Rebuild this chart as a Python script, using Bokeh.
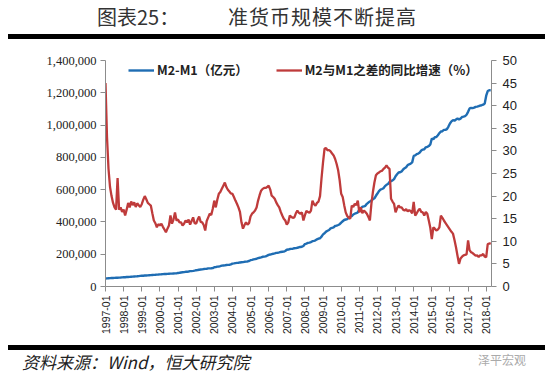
from bokeh.plotting import figure
from bokeh.models import (Range1d, LinearAxis, FixedTicker, NumeralTickFormatter,
                          Legend, LegendItem, ColumnDataSource, Div)
from bokeh.layouts import column
from bokeh.embed import file_html
from bokeh.resources import INLINE

# ---------------- data ----------------
title_left = "图表25："
title_right = "准货币规模不断提高"
source_text = "资料来源：Wind，恒大研究院"
watermark = "泽平宏观"

tick_labels = ["1997-01", "1998-01", "1999-01", "2000-01", "2001-01", "2002-01",
               "2003-01", "2004-01", "2005-01", "2006-01", "2007-01", "2008-01",
               "2009-01", "2010-01", "2011-01", "2012-01", "2013-01", "2014-01",
               "2015-01", "2016-01", "2017-01", "2018-01"]

series_names = ["M2-M1（亿元）", "M2与M1之差的同比增速（%）"]

# M2-M1 (亿元), monthly 1997-01 .. 2018-04
m2_minus_m1 = [
    49600, 50500, 51500, 52000, 52500, 53000, 53500, 54000, 54500, 55000, 55500, 56200,
    57000, 57500, 58500, 59000, 59500, 60500, 61000, 62000, 63000, 63500, 64500, 65500,
    66500, 67000, 68000, 68500, 69000, 70000, 70500, 71500, 72000, 72500, 73500, 74000,
    75000, 75500, 76500, 77000, 77500, 78500, 79000, 79500, 80000, 80500, 81000, 81500,
    84000, 85000, 87000, 88000, 89000, 91000, 91500, 93000, 95000, 95500, 96500, 98400,
    101000, 102000, 104000, 105000, 106000, 108000, 109000, 110000, 112000, 112500, 113000, 114000,
    119000, 120000, 123000, 124000, 126000, 129000, 130000, 131000, 133000, 134000, 135000, 137000,
    142000, 143000, 145000, 146000, 147000, 149000, 150000, 151000, 153000, 154000, 155000, 158000,
    163000, 165000, 168000, 170000, 172000, 176000, 178000, 180000, 184000, 185000, 187000, 191000,
    196000, 198000, 201000, 203000, 205000, 208000, 209000, 211000, 214000, 215000, 216000, 220000,
    228000, 229000, 232000, 233000, 234000, 237000, 238000, 240000, 243000, 245000, 246000, 251000,
    263000, 266000, 270000, 272000, 275000, 281000, 283000, 286000, 292000, 296000, 299000, 309000,
    323000, 330000, 340000, 345000, 350000, 360000, 363000, 366000, 375000, 377000, 381000, 386000,
    396000, 404000, 412000, 415000, 418000, 427000, 432000, 436000, 446000, 451000, 454000, 459000,
    476000, 485000, 494000, 496000, 500000, 512000, 520000, 526000, 533000, 540000, 546000, 562000,
    576000, 591000, 600000, 604000, 609000, 622000, 630000, 635000, 648000, 653000, 657000, 665000,
    683000, 695000, 706000, 708000, 713000, 725000, 733000, 739000, 752000, 757000, 761000, 769000,
    809000, 812000, 820000, 823000, 830000, 842000, 848000, 850000, 862000, 865000, 870000, 880000,
    917000, 912000, 925000, 926000, 937000, 950000, 960000, 962000, 970000, 970000, 975000, 991000,
    1010000, 1023000, 1030000, 1027000, 1034000, 1040000, 1035000, 1040000, 1050000, 1052000, 1055000, 1064000,
    1082000, 1103000, 1106000, 1105000, 1108000, 1113000, 1114000, 1117000, 1121000, 1123000, 1126000, 1133000,
    1182000, 1211000, 1216000, 1215000,
]

# YoY growth of (M2-M1), %, monthly 1997-01 .. 2018-04
diff_yoy = [
    45, 33, 26, 22, 20, 18.5, 17.5, 17, 24, 17, 17.5, 16.5,
    17, 15.7, 17, 18.5, 17.5, 18.8, 18, 18.6, 17.6, 18.4, 18, 17.6,
    18.2, 19.2, 20, 19.3, 18.5, 18.2, 17.9, 16.2, 14.6, 14, 13.1, 13.8,
    13.5, 13.9, 13.2, 12.6, 12, 12.8, 13.5, 15.7, 13.9, 14.8, 16.4, 14.6,
    14.8, 14.2, 14.2, 13.5, 13.9, 14.6, 14.2, 14.8, 13.7, 14.5, 15.3, 14,
    13.9, 14.8, 15.5, 14.3, 14.2, 13.6, 12.4, 14.5, 15.3, 16.1, 15.8, 17.2,
    19, 17.5, 19.2, 20.5, 20.9, 21.6, 22.3, 23, 22, 21.4, 21, 20.6,
    20.5, 19.8, 19, 18.3, 17.5, 16.5, 14.2, 12.8, 13.6, 14.2, 13.7, 14,
    15.5, 16.1, 16.4, 16.8, 17.5, 19, 20.2, 21.2, 21.6, 21.8, 21.8, 22,
    22.3, 21.5, 20.1, 19.8, 19.4, 18.6, 18, 17.5, 16.5, 15.7, 15, 14.6,
    13.7, 14.2, 15.7, 15.4, 15.2, 15.3, 16.2, 16.8, 16.3, 16.1, 16.4, 14.6,
    15.8, 16.7, 16.5, 16.3, 16.8, 19, 18.2, 17.9, 18.5, 18.8, 20, 24,
    27.5, 30.5, 30.6, 30.1, 30.2, 29.9, 29.4, 29, 28.2, 27.1, 25.7, 23.5,
    20.5, 19.8, 18, 16.4, 15.6, 15.2, 15, 17.9, 17.6, 18.3, 18, 19,
    16.4, 17.5, 16.2, 16.8, 16.5, 16.1, 15.4, 14.6, 18.3, 20.9, 23, 24.6,
    25, 25.2, 25.5, 25.6, 26, 26.3, 26.8, 26.3, 26, 19.4, 18.8, 18.3,
    16.4, 17.3, 17.9, 17.5, 17.5, 17, 16.8, 17.1, 16.6, 16.9, 16.7, 16.2,
    18.7, 15.7, 16.2, 16.8, 17.2, 16.5, 16.4, 15.7, 16.5, 16.1, 14.6, 13,
    10.5, 13.1, 12.8, 12.4, 12.6, 13.1, 15.7, 15.2, 14.6, 14.1, 13.6, 13.1,
    12.6, 12.1, 11.7, 10.3, 8.7, 6.8, 5, 6.2, 6.6, 6.9, 7, 7.1,
    10.2, 8, 7.6, 7.4, 7.1, 6.8, 6.9, 6.5, 6.9, 6.9, 7.2, 6.6,
    6.5, 9.4, 9.5, 9.6,
]

months = list(range(len(m2_minus_m1)))
tick_positions = [12 * i for i in range(len(tick_labels))]

src = ColumnDataSource(dict(x=months, blue=m2_minus_m1, red=diff_yoy))

W = 550

# ---------------- header ----------------
header = Div(width=W, height=42, margin=0, text=f"""
<div style="position:relative;width:{W}px;height:42px;font-family:'Noto Sans CJK SC';color:#333;">
  <span style="position:absolute;left:97px;top:5px;font-size:20px;line-height:24px;">{title_left}</span>
  <span style="position:absolute;left:228px;top:5px;font-size:20px;line-height:24px;letter-spacing:1px;">{title_right}</span>
  <div style="position:absolute;left:8px;top:34px;width:537px;height:5px;background:#000;"></div>
</div>""")

# ---------------- figure ----------------
p = figure(width=W, height=300, output_backend="svg", toolbar_location=None,
           x_range=Range1d(0, 255.5), y_range=Range1d(0, 1400000),
           min_border_left=105, min_border_right=59, min_border_top=18,
           min_border_bottom=56, outline_line_color=None, margin=0)
p.background_fill_color = "white"
p.border_fill_color = "white"
p.xgrid.visible = False
p.ygrid.visible = False
p.extra_y_ranges = {"pct": Range1d(0, 50)}

axis_color = "#8c8c8c"
label_color = "#222222"

ya = p.yaxis[0]
ya.ticker = FixedTicker(ticks=[0, 200000, 400000, 600000, 800000, 1000000, 1200000, 1400000])
ya.formatter = NumeralTickFormatter(format="0,0")
ya.major_label_text_font = "Liberation Serif"
ya.major_label_text_font_size = "12.5px"
ya.major_label_text_color = label_color
ya.axis_line_color = axis_color
ya.major_tick_line_color = axis_color
ya.major_tick_out = 5
ya.major_tick_in = 0
ya.minor_tick_line_color = None
ya.major_label_standoff = 4

ra = LinearAxis(y_range_name="pct", ticker=FixedTicker(ticks=list(range(0, 51, 5))))
ra.major_label_text_font = "Liberation Sans"
ra.major_label_text_font_size = "13px"
ra.major_label_text_color = label_color
ra.axis_line_color = axis_color
ra.major_tick_line_color = axis_color
ra.major_tick_out = 5
ra.major_tick_in = 0
ra.minor_tick_line_color = None
ra.major_label_standoff = 6
p.add_layout(ra, "right")

xa = p.xaxis[0]
xa.ticker = FixedTicker(ticks=tick_positions)
xa.major_label_overrides = {pos: lab for pos, lab in zip(tick_positions, tick_labels)}
xa.major_label_orientation = 1.5708
xa.major_label_text_font = "Liberation Sans"
xa.major_label_text_font_size = "10.5px"
xa.major_label_text_color = label_color
xa.axis_line_color = axis_color
xa.major_tick_line_color = axis_color
xa.major_tick_out = 5
xa.major_tick_in = 0
xa.minor_tick_line_color = None
xa.major_label_standoff = 4

blue = p.line("x", "blue", source=src, line_color="#1f6db3", line_width=2.4)
red = p.line("x", "red", source=src, y_range_name="pct", line_color="#bf3b3b", line_width=2.3)

legend = Legend(items=[LegendItem(label=series_names[0], renderers=[blue]),
                       LegendItem(label=series_names[1], renderers=[red])],
                orientation="horizontal", location=(23, 207),
                background_fill_alpha=0, border_line_color=None,
                label_text_font="Noto Sans CJK SC", label_text_font_style="bold",
                label_text_font_size="12.5px", label_text_color="#222222",
                glyph_width=26, glyph_height=10, spacing=28, padding=0, margin=0,
                label_standoff=3)
p.add_layout(legend, "center")

# ---------------- footer ----------------
footer = Div(width=W, height=41, margin=0, text=f"""
<div style="position:relative;width:{W}px;height:41px;">
  <div style="position:absolute;left:8px;top:3px;width:537px;height:5px;background:#000;"></div>
  <span style="position:absolute;left:22px;top:9px;font-family:'Noto Sans CJK SC';font-style:italic;font-size:17px;line-height:22px;color:#222;">{source_text}</span>
  <span style="position:absolute;left:478px;top:9px;font-family:'Noto Sans CJK SC';font-size:12px;line-height:18px;color:#aaa;">{watermark}</span>
</div>""")

layout = column(header, p, footer, spacing=0, margin=0)
open("out.html", "w").write(file_html(layout, INLINE))
